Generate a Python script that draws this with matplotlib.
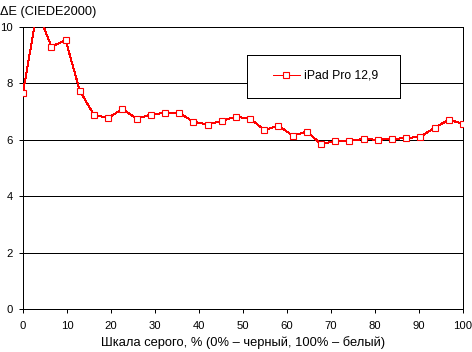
import matplotlib
matplotlib.use("Agg")
import matplotlib.pyplot as plt
from matplotlib.patches import Rectangle


# Gray level, % (32 steps from black to white)
GRAY_STEPS = 32
gray_percent = [100.0 * i / (GRAY_STEPS - 1) for i in range(GRAY_STEPS)]

delta_e = [
    7.67, 10.6, 9.30, 9.54, 7.74, 6.88, 6.78, 7.09, 6.75, 6.89,
    6.96, 6.96, 6.64, 6.54, 6.67, 6.82, 6.75, 6.35, 6.50, 6.15,
    6.29, 5.85, 5.96, 5.96, 6.03, 6.00, 6.03, 6.06, 6.11, 6.43,
    6.71, 6.57,
]

x_ticks = [0, 10, 20, 30, 40, 50, 60, 70, 80, 90, 100]
y_ticks = [0, 2, 4, 6, 8, 10]

SERIES_NAME = "iPad Pro 12,9"
Y_TITLE = "ΔE (CIEDE2000)"
X_TITLE = "Шкала серого, % (0% – черный, 100% – белый)"

LW = 0.72  # one pixel at 100 dpi


def main():
    plt.rcParams["font.family"] = ["Liberation Sans", "DejaVu Sans"]
    plt.rcParams["font.size"] = 9
    plt.rcParams["lines.antialiased"] = False
    plt.rcParams["patch.antialiased"] = False

    W, H = 472, 352
    fig = plt.figure(figsize=(W / 100, H / 100), dpi=100)

    # axes box in pixels: x 23..463, y 27..309
    left, right, top, bottom = 23, 463, 27, 309
    ax = fig.add_axes([left / W, 1 - bottom / H, (right - left) / W, (bottom - top) / H])

    ax.plot(gray_percent, delta_e, color="#ff0000", linewidth=LW,
            marker="s", markersize=4.8, markerfacecolor="white",
            markeredgecolor="#ff0000", markeredgewidth=0.8,
            label=SERIES_NAME, zorder=3)

    ax.set_xlim(0, 100)
    ax.set_ylim(0, 10)
    ax.set_xticks(x_ticks)
    ax.set_yticks(y_ticks)
    ax.tick_params(direction="out", length=2.6, width=LW, colors="black", labelsize=8.1)
    ax.tick_params(axis="x", pad=6.0)
    ax.tick_params(axis="y", pad=4.6)

    ax.grid(True, axis="y", color="black", linewidth=LW)
    ax.set_axisbelow(True)
    for sp in ax.spines.values():
        sp.set_color("black")
        sp.set_linewidth(LW)

    ax.set_xlabel(X_TITLE, labelpad=4, fontsize=9.3)
    fig.text(0.0, 1 - 12 / H, Y_TITLE, ha="left", va="center", fontsize=9.2)

    # legend frame (white box, black border)
    lx0, lx1, ly0, ly1 = 247, 400, 55, 98
    frame = Rectangle(((lx0 - left) / (right - left), (bottom - ly1) / (bottom - top)),
                      (lx1 - lx0) / (right - left), (ly1 - ly0) / (bottom - top),
                      transform=ax.transAxes, facecolor="white", edgecolor="black",
                      linewidth=LW, zorder=4)
    ax.add_patch(frame)

    leg = ax.legend(loc="center left",
                    bbox_to_anchor=((273 - left) / (right - left), (bottom - 76) / (bottom - top)),
                    frameon=False, borderpad=0, borderaxespad=0,
                    handlelength=2.2, handletextpad=0.3, fontsize=8.8)
    leg.set_zorder(5)

    fig.savefig("out.png", dpi=100)


if __name__ == "__main__":
    main()
